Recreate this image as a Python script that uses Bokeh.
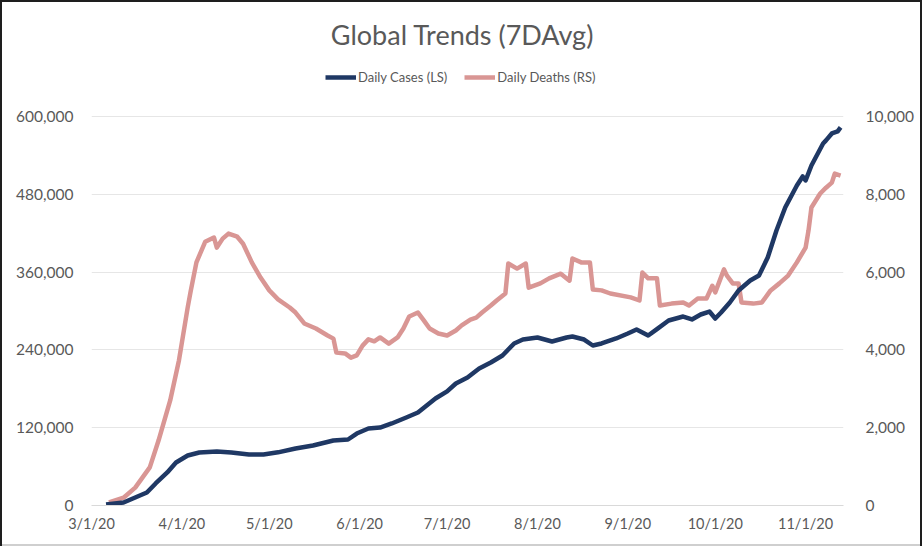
import pandas as pd
from bokeh.plotting import figure
from bokeh.models import (Range1d, LinearAxis, NumeralTickFormatter, FixedTicker,
                          Legend, LegendItem, ColumnDataSource, Label)
from bokeh.embed import file_html
from bokeh.resources import INLINE

# ---------------- data ----------------
case_dates = ["2020-03-06", "2020-03-12", "2020-03-16", "2020-03-20", "2020-03-23", "2020-03-27",
              "2020-03-30", "2020-04-03", "2020-04-07", "2020-04-13", "2020-04-18", "2020-04-24",
              "2020-04-29", "2020-05-04", "2020-05-10", "2020-05-16", "2020-05-23", "2020-05-28",
              "2020-05-31", "2020-06-04", "2020-06-08", "2020-06-12", "2020-06-17", "2020-06-21",
              "2020-06-24", "2020-06-27", "2020-07-01", "2020-07-04", "2020-07-08", "2020-07-12",
              "2020-07-16", "2020-07-20", "2020-07-24", "2020-07-27", "2020-08-01", "2020-08-06",
              "2020-08-11", "2020-08-13", "2020-08-17", "2020-08-20", "2020-08-23", "2020-08-28",
              "2020-09-01", "2020-09-04", "2020-09-08", "2020-09-11", "2020-09-15", "2020-09-20",
              "2020-09-23", "2020-09-26", "2020-09-29", "2020-10-01", "2020-10-03", "2020-10-06",
              "2020-10-09", "2020-10-13", "2020-10-16", "2020-10-19", "2020-10-22", "2020-10-25",
              "2020-10-29", "2020-10-31", "2020-11-01", "2020-11-03", "2020-11-07", "2020-11-08",
              "2020-11-10", "2020-11-12", "2020-11-13"]
cases = [1500, 4600, 12300, 20000, 34000, 51000,
         66300, 77100, 81700, 83300, 81700, 78700,
         78700, 82000, 87900, 92500, 100300, 101800,
         111000, 118800, 120300, 126500, 135700, 143400,
         154200, 165000, 176000, 188200, 197400, 211300,
         220600, 231400, 249900, 256000, 259100, 252900,
         259100, 260700, 256000, 246800, 249900, 257600,
         265300, 271500, 262200, 272000, 285300, 291500,
         286900, 294600, 299200, 288400, 297700, 313100,
         331600, 347000, 354800, 382500, 424200, 459600,
         493600, 507500, 501300, 524500, 558400, 563100,
         573800, 577000, 583200]

death_dates = ["2020-03-07", "2020-03-12", "2020-03-16", "2020-03-21", "2020-03-24", "2020-03-28",
               "2020-03-31", "2020-04-03", "2020-04-04", "2020-04-06", "2020-04-09", "2020-04-12",
               "2020-04-13", "2020-04-15", "2020-04-17", "2020-04-20", "2020-04-22", "2020-04-25",
               "2020-04-28", "2020-05-01", "2020-05-04", "2020-05-08", "2020-05-10", "2020-05-13",
               "2020-05-17", "2020-05-21", "2020-05-23", "2020-05-24", "2020-05-27", "2020-05-29",
               "2020-05-31", "2020-06-02", "2020-06-04", "2020-06-06", "2020-06-08", "2020-06-11",
               "2020-06-14", "2020-06-16", "2020-06-18", "2020-06-21", "2020-06-23", "2020-06-25",
               "2020-06-28", "2020-07-01", "2020-07-04", "2020-07-06", "2020-07-09", "2020-07-11",
               "2020-07-13", "2020-07-16", "2020-07-18", "2020-07-21", "2020-07-22", "2020-07-25",
               "2020-07-28", "2020-07-29", "2020-08-02", "2020-08-05", "2020-08-09", "2020-08-12",
               "2020-08-13", "2020-08-16", "2020-08-19", "2020-08-20", "2020-08-23", "2020-08-26",
               "2020-09-02", "2020-09-05", "2020-09-06", "2020-09-08", "2020-09-11", "2020-09-12",
               "2020-09-16", "2020-09-20", "2020-09-22", "2020-09-25", "2020-09-28", "2020-09-30",
               "2020-10-01", "2020-10-04", "2020-10-05", "2020-10-07", "2020-10-09", "2020-10-10",
               "2020-10-14", "2020-10-17", "2020-10-20", "2020-10-23", "2020-10-26", "2020-10-29",
               "2020-11-01", "2020-11-02", "2020-11-03", "2020-11-06", "2020-11-08", "2020-11-10",
               "2020-11-11", "2020-11-13"]
deaths = [80, 200, 460, 980, 1670, 2700,
          3730, 5090, 5500, 6250, 6780, 6890,
          6630, 6860, 6990, 6910, 6730, 6250,
          5860, 5530, 5300, 5090, 4960, 4680,
          4550, 4370, 4290, 3930, 3910, 3800,
          3860, 4110, 4270, 4220, 4320, 4160,
          4320, 4550, 4860, 4960, 4760, 4550,
          4420, 4370, 4500, 4630, 4780, 4830,
          4960, 5140, 5270, 5450, 6220, 6090,
          6220, 5600, 5710, 5840, 5960, 5780,
          6350, 6250, 6250, 5550, 5530, 5450,
          5350, 5270, 5990, 5840, 5840, 5140,
          5190, 5220, 5140, 5320, 5320, 5650,
          5480, 6070, 5910, 5710, 5710, 5220,
          5190, 5220, 5530, 5710, 5910, 6250,
          6630, 7070, 7660, 8020, 8170, 8300,
          8530, 8480]

tick_dates = ["2020-03-01", "2020-04-01", "2020-05-01", "2020-06-01", "2020-07-01",
              "2020-08-01", "2020-09-01", "2020-10-01", "2020-11-01"]
tick_labels = ["3/1/20", "4/1/20", "5/1/20", "6/1/20", "7/1/20",
               "8/1/20", "9/1/20", "10/1/20", "11/1/20"]
left_ticks = [0, 120000, 240000, 360000, 480000, 600000]
right_ticks = [0, 2000, 4000, 6000, 8000, 10000]

title_text = "Global Trends (7DAvg)"
x_start, x_end = "2020-03-01", "2020-11-14"

# ---------------- layout / styling ----------------
FONT = "Lato"
GREY = "#595959"
BLUE = "#1f3864"
PINK = "#d99694"

FRAME_W, FRAME_H = 752, 505      # frame reaches the top of the canvas; title/legend live inside it
AXIS_H = 389                     # pixel height used by the 0..max tick span
head = FRAME_H / AXIS_H          # extra headroom factor above the top tick


def ms(d):
    return int(pd.Timestamp(d).value // 10**6)


src_c = ColumnDataSource(dict(x=pd.to_datetime(case_dates), y=cases))
src_d = ColumnDataSource(dict(x=pd.to_datetime(death_dates), y=deaths))

p = figure(frame_width=FRAME_W, frame_height=FRAME_H, x_axis_type="datetime", title=None,
           output_backend="svg", toolbar_location=None,
           x_range=Range1d(pd.Timestamp(x_start), pd.Timestamp(x_end)),
           y_range=Range1d(left_ticks[0], left_ticks[-1] * head),
           min_border_left=91, min_border_right=79, min_border_bottom=41, min_border_top=0)
p.extra_y_ranges = {"deaths": Range1d(right_ticks[0], right_ticks[-1] * head)}

p.border_fill_color = None
p.background_fill_color = None
p.outline_line_color = None
p.styles = {"background-color": "white",
            "box-shadow": "inset 2px 2px 0 #1e1e1e, inset -2px 0 0 #1e1e1e, inset 0 -2px 0 #cfcfcf"}

r_deaths = p.line("x", "y", source=src_d, line_color=PINK, line_width=4.5, line_join="round",
                  y_range_name="deaths")
r_cases = p.line("x", "y", source=src_c, line_color=BLUE, line_width=4.5, line_join="round")

# axes
xa = p.xaxis[0]
xa.ticker = FixedTicker(ticks=[ms(d) for d in tick_dates])
xa.major_label_overrides = {ms(d): lab for d, lab in zip(tick_dates, tick_labels)}
xa.axis_line_color = "#d9d9d9"
xa.major_tick_line_color = None
xa.minor_tick_line_color = None
xa.major_label_standoff = 3
xa.major_label_text_font = FONT
xa.major_label_text_font_size = "14.5px"
xa.major_label_text_color = GREY

ya = p.yaxis[0]
ya.ticker = FixedTicker(ticks=left_ticks)
ya.formatter = NumeralTickFormatter(format="0,0")
ya.axis_line_color = None
ya.major_tick_line_color = None
ya.minor_tick_line_color = None
ya.major_label_standoff = 12
ya.major_label_text_font = FONT
ya.major_label_text_font_size = "15.5px"
ya.major_label_text_color = GREY

ra = LinearAxis(y_range_name="deaths", ticker=FixedTicker(ticks=right_ticks),
                formatter=NumeralTickFormatter(format="0,0"))
ra.axis_line_color = None
ra.major_tick_line_color = None
ra.minor_tick_line_color = None
ra.major_label_standoff = 16
ra.major_label_text_font = FONT
ra.major_label_text_font_size = "15.5px"
ra.major_label_text_color = GREY
p.add_layout(ra, "right")

p.xgrid.grid_line_color = None
p.ygrid.grid_line_color = "#e6e6e6"
p.ygrid.ticker = FixedTicker(ticks=left_ticks)

# title (screen units relative to the frame, y measured up from the frame bottom)
title = Label(x=371, y=471, x_units="screen", y_units="screen", text=title_text,
              text_align="center", text_baseline="middle", text_font=FONT,
              text_font_size="27px", text_color=GREY)
p.add_layout(title)

# legend just under the title
legend = Legend(items=[LegendItem(label="Daily Cases (LS)", renderers=[r_cases]),
                       LegendItem(label="Daily Deaths (RS)", renderers=[r_deaths])],
                orientation="horizontal", location=(234, 420),
                border_line_color=None, background_fill_alpha=0,
                label_text_font=FONT, label_text_font_size="13px", label_text_color=GREY,
                glyph_width=31, glyph_height=14, label_standoff=2, spacing=17,
                padding=0, margin=0)
p.add_layout(legend, "center")

open("out.html", "w").write(file_html(p, INLINE))
